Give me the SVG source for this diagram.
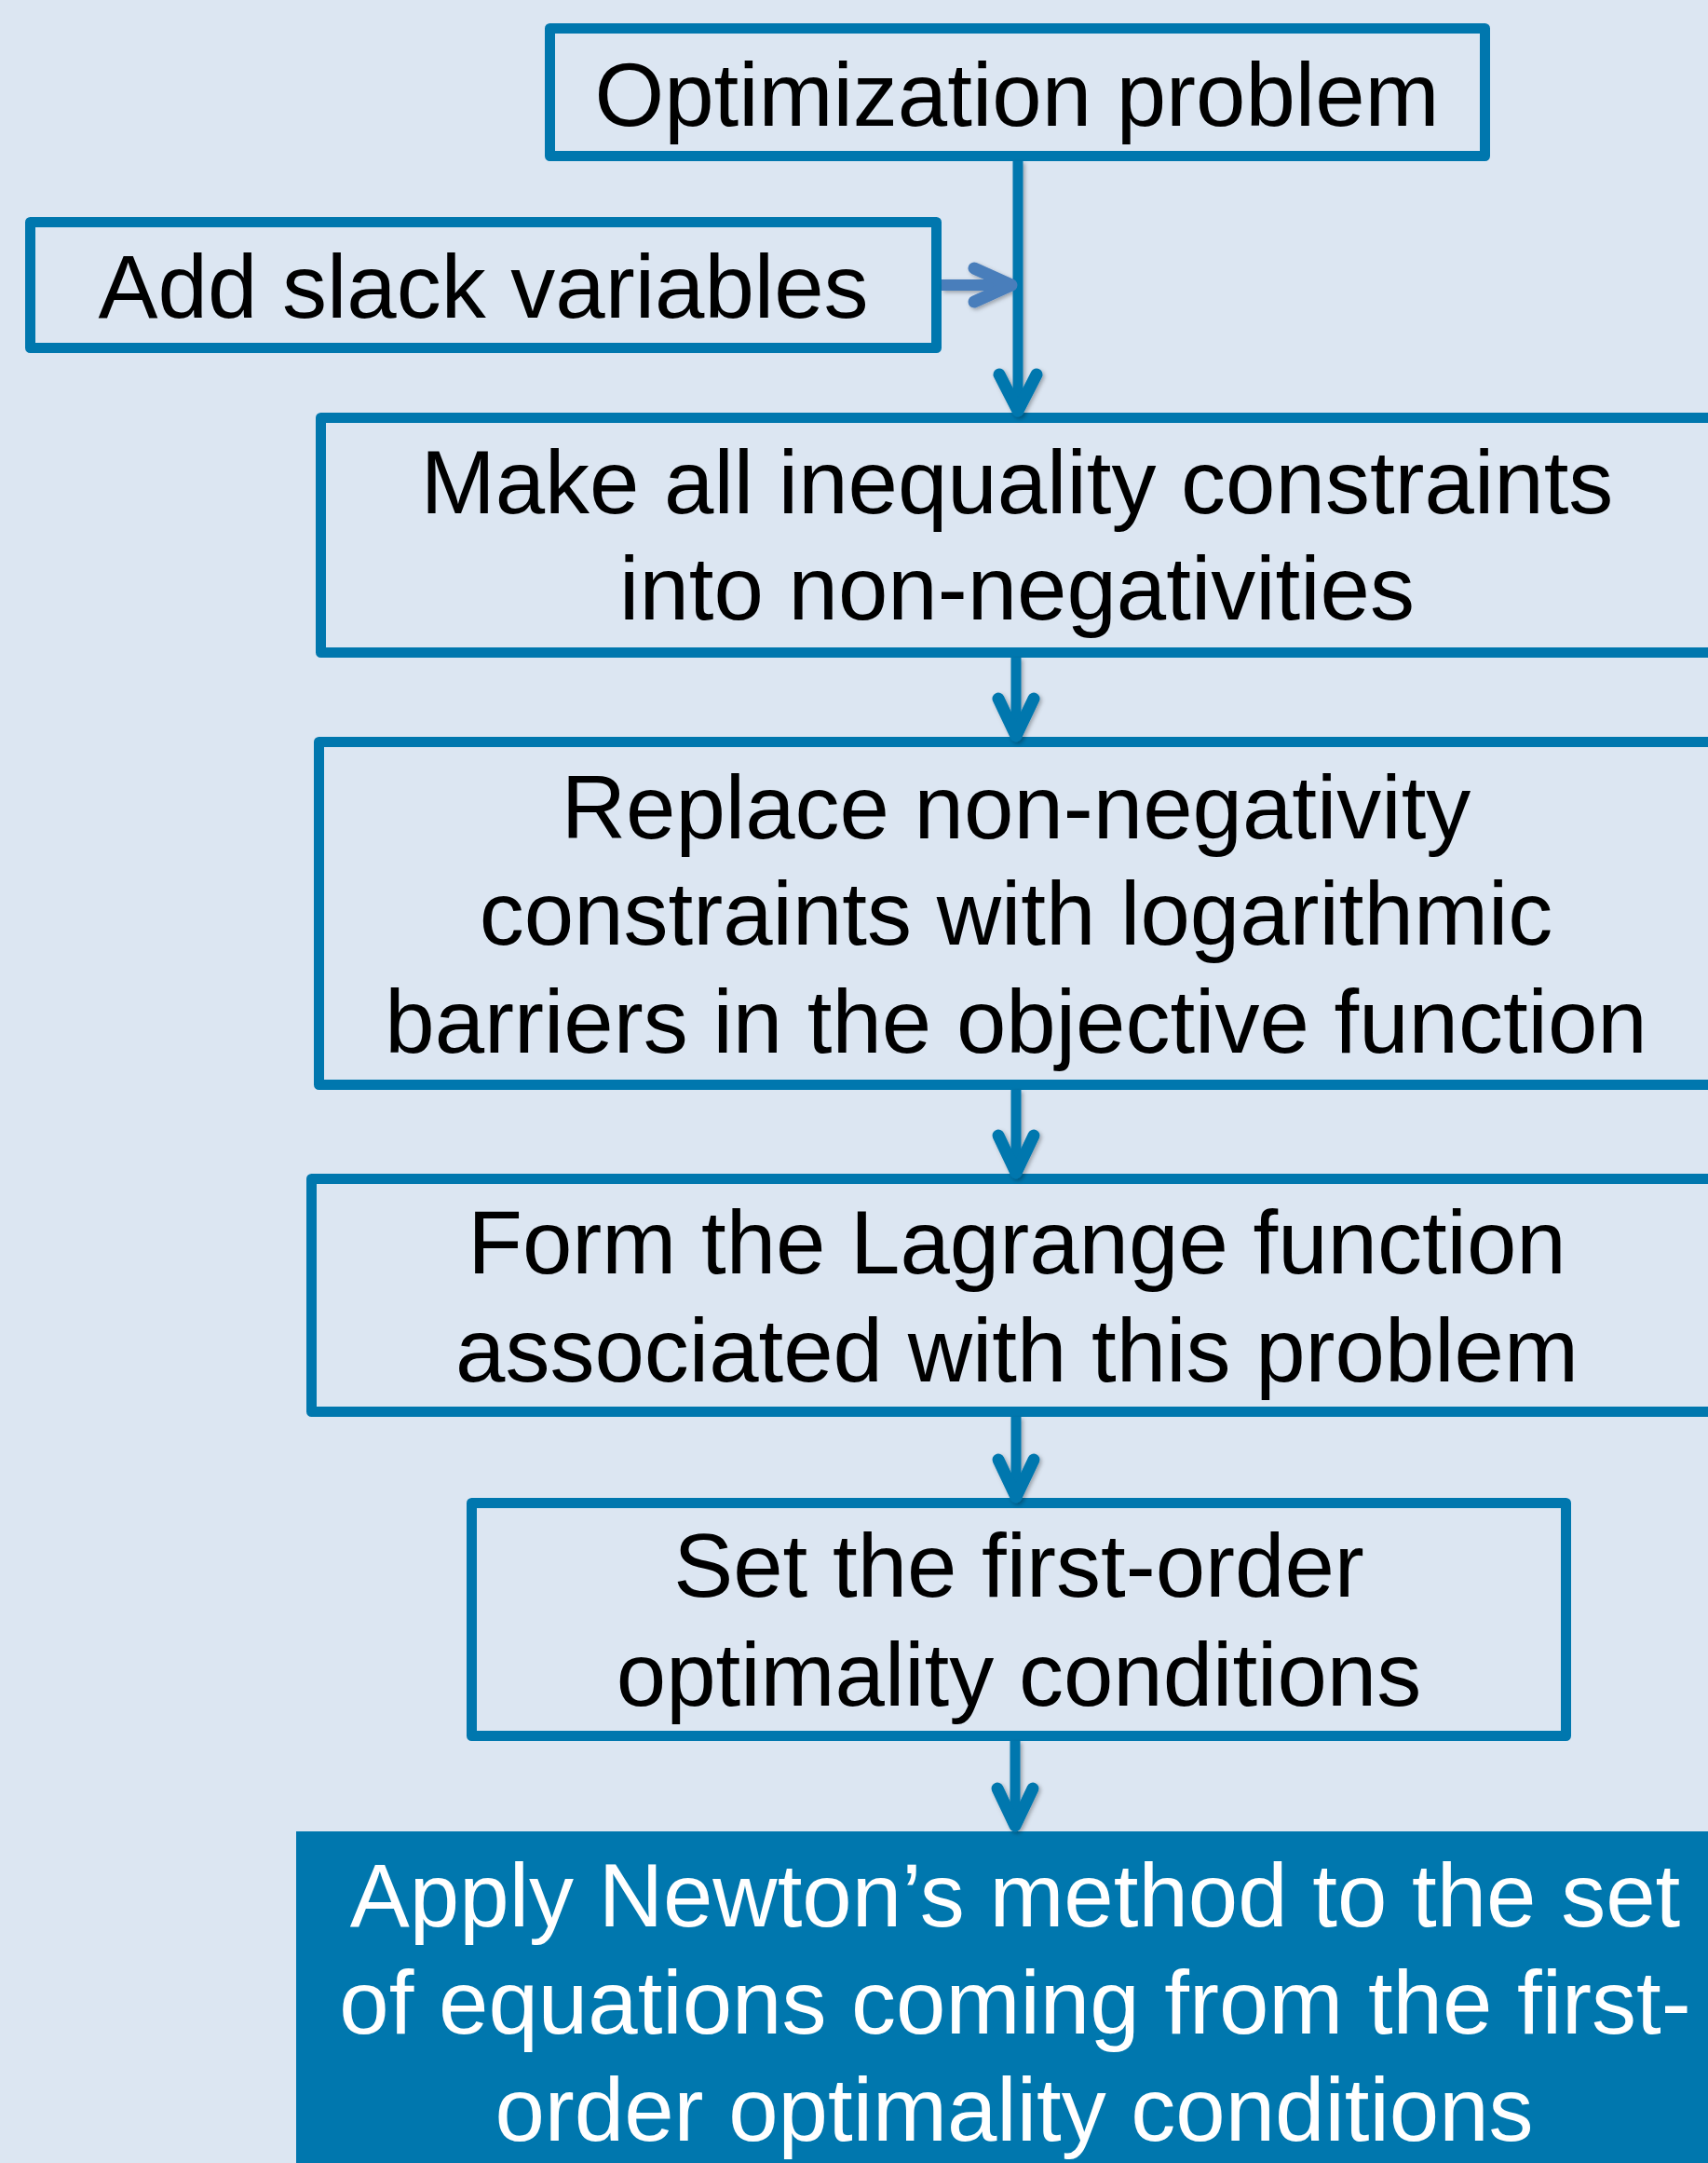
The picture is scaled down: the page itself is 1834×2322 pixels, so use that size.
<svg xmlns="http://www.w3.org/2000/svg" width="1834" height="2322" viewBox="0 0 1834 2322">
  <style>
    .box { fill: #dce6f2; stroke: #0077ae; stroke-width: 11; stroke-linejoin: round; }
    .final { fill: #0077ae; }
    .lbl { font-family: "Liberation Sans", Arial, sans-serif; font-size: 96px; fill: #000000; text-anchor: middle; }
    .lbl-w { font-family: "Liberation Sans", Arial, sans-serif; font-size: 96px; fill: #ffffff; text-anchor: middle; }
    .wire { fill: none; stroke: #0077ae; stroke-width: 11; }
    .head { fill: none; stroke: #0077ae; stroke-width: 13; stroke-linecap: round; stroke-linejoin: round; }
    .side { fill: none; stroke: #4a7ebb; stroke-width: 12; }
    .side-head { fill: none; stroke: #4a7ebb; stroke-width: 13; stroke-linecap: round; stroke-linejoin: round; }
  </style>
  <defs>
    <filter id="soft-shadow" x="-20%" y="-20%" width="140%" height="140%">
      <feDropShadow dx="2" dy="2" stdDeviation="2" flood-color="#000000" flood-opacity="0.3"/>
    </filter>
  </defs>

  <rect x="0" y="0" width="1834" height="2322" fill="#dce6f2"/>

  <g id="node-problem">
    <rect class="box" x="590.5" y="30.5" width="1004" height="137"/>
    <text class="lbl" x="1092" y="135">Optimization problem</text>
  </g>

  <g id="node-slack">
    <rect class="box" x="32.5" y="238.5" width="973" height="135"/>
    <text class="lbl" x="519" y="341">Add slack variables</text>
  </g>

  <g id="node-nonneg">
    <rect class="box" x="344.5" y="448.5" width="1600" height="252"/>
    <text class="lbl" x="1092" y="551">Make all inequality constraints</text>
    <text class="lbl" x="1092" y="665">into non-negativities</text>
  </g>

  <g id="node-barrier">
    <rect class="box" x="342.5" y="796.5" width="1600" height="368"/>
    <text class="lbl" x="1091" y="900">Replace non-negativity</text>
    <text class="lbl" x="1091" y="1014">constraints with logarithmic</text>
    <text class="lbl" x="1091" y="1130">barriers in the objective function</text>
  </g>

  <g id="node-lagrange">
    <rect class="box" x="334.5" y="1265.5" width="1600" height="250"/>
    <text class="lbl" x="1092" y="1367">Form the Lagrange function</text>
    <text class="lbl" x="1092" y="1483">associated with this problem</text>
  </g>

  <g id="node-kkt">
    <rect class="box" x="506.5" y="1613.5" width="1175" height="250"/>
    <text class="lbl" x="1094" y="1714">Set the first-order</text>
    <text class="lbl" x="1094" y="1831">optimality conditions</text>
  </g>

  <g id="node-newton">
    <rect class="final" x="318" y="1966" width="1600" height="400"/>
    <text class="lbl-w" x="1090" y="2068">Apply Newton’s method to the set</text>
    <text class="lbl-w" x="1090" y="2183">of equations coming from the first-</text>
    <text class="lbl-w" x="1089" y="2298">order optimality conditions</text>
  </g>

  <!-- connectors, drawn over the box edges they touch -->
  <g id="connectors" filter="url(#soft-shadow)">
    <path class="wire" d="M1093 173 V436"/>
    <path class="head" d="M1073 402 L1093 441 L1113 402"/>

    <path class="side" d="M1011 306 H1084"/>
    <path class="side-head" d="M1046 288 L1086 306 L1046 324"/>

    <path class="wire" d="M1091 706 V785"/>
    <path class="head" d="M1072 750 L1091 790 L1110 750"/>

    <path class="wire" d="M1091 1170 V1255"/>
    <path class="head" d="M1072 1219 L1091 1259 L1110 1219"/>

    <path class="wire" d="M1091 1521 V1603"/>
    <path class="head" d="M1072 1567 L1091 1607 L1110 1567"/>

    <path class="wire" d="M1090 1869 V1956"/>
    <path class="head" d="M1071 1920 L1090 1960 L1109 1920"/>
  </g>
</svg>
